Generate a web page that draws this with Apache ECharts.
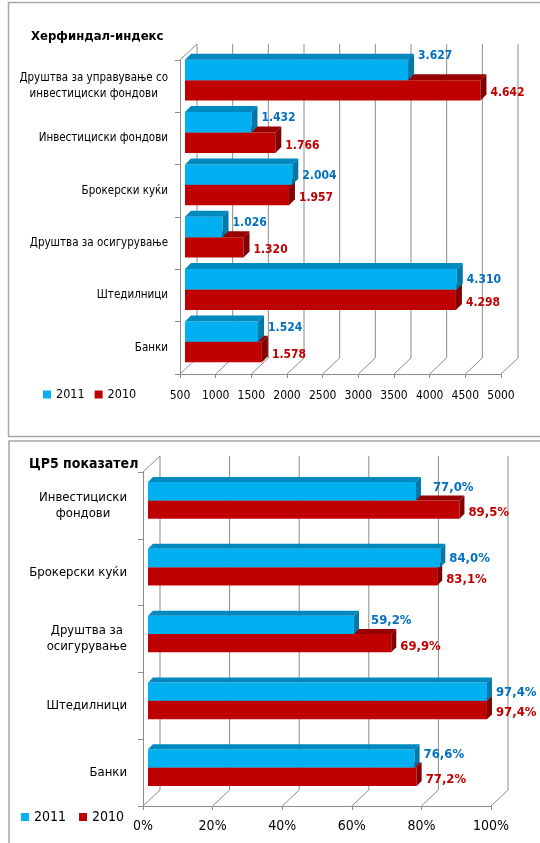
<!DOCTYPE html>
<html>
<head>
<meta charset="utf-8">
<script src="https://cdn.jsdelivr.net/npm/echarts@6/dist/echarts.min.js"></script>
<style>
  html, body { margin: 0; padding: 0; background: #fff; }
  #chart { width: 540px; height: 843px; }
</style>
</head>
<body>
<div id="chart"></div>
<script>
// Herfindahl index by sector
const hhiCategories = ['Друштва за управување со\nинвестициски фондови', 'Инвестициски фондови', 'Брокерски куќи', 'Друштва за осигурување', 'Штедилници', 'Банки'];
const hhi2011 = [3627, 1432, 2004, 1026, 4310, 1524];
const hhi2010 = [4642, 1766, 1957, 1320, 4298, 1578];
const hhiTicks = [500, 1000, 1500, 2000, 2500, 3000, 3500, 4000, 4500, 5000];

// CR5 concentration ratio by sector (%)
const cr5Categories = ['Инвестициски\nфондови', 'Брокерски куќи', 'Друштва за\nосигурување', 'Штедилници', 'Банки'];
const cr52011 = [77.0, 84.0, 59.2, 97.4, 76.6];
const cr52010 = [89.5, 83.1, 69.9, 97.4, 77.2];
const cr5Ticks = [0, 20, 40, 60, 80, 100];

const years = ['2011', '2010'];

const FONT = "'DejaVu Sans Condensed', 'Liberation Sans', sans-serif";
const GRID_COLOR = '#8c8c8c';
const WALL = [17, -16];          // depth of the back wall relative to the front plane

const PAL = {
  '2011': { front: '#00B0F0', top: '#0089BE', side: '#0078A8', label: '#0070C0' },
  '2010': { front: '#C00000', top: '#960000', side: '#830000', label: '#C00000' }
};

const fmtHHI = v => {
  const s = String(Math.round(v));
  return s.length > 3 ? s.slice(0, s.length - 3) + '.' + s.slice(-3) : s;
};
const fmtPct = v => v.toFixed(1).replace('.', ',') + '%';

// back wall grid lines, floor diagonals and left wall top edge
function wallRenderer(minVal) {
  return function (params, api) {
    const cs = params.coordSys;
    const v = api.value(0);
    const px = api.coord([v, 0])[0];
    const bottom = cs.y + cs.height;
    const top = cs.y;
    const style = { stroke: GRID_COLOR, lineWidth: 1, fill: null };
    const children = [
      { type: 'polyline', shape: { points: [[px, bottom], [px + WALL[0], bottom + WALL[1]], [px + WALL[0], top + WALL[1]]] }, style: style }
    ];
    if (v === minVal) {
      children.push({ type: 'line', shape: { x1: px, y1: top, x2: px + WALL[0], y2: top + WALL[1] }, style: style });
    }
    return { type: 'group', children: children };
  };
}

// pseudo 3D bar: front face, top face, side face and value label
function barRenderer(cfg, year, values, others, fmt) {
  const upper = year === '2011';
  const pal = PAL[year];
  return function (params, api) {
    const idx = api.value(1);
    const v = api.value(0);
    const base = api.coord([cfg.min, idx]);
    const endP = api.coord([v, idx]);
    const band = api.size([0, 1])[1];
    const h = band * cfg.ratio;
    const d = cfg.depth;
    const cy = base[1] + cfg.shift[1];
    const y0 = upper ? cy - h : cy;
    const x0 = base[0] + cfg.shift[0];
    const x1 = endP[0] + cfg.shift[0];

    // keep the upper label clear of a longer bar below it
    let dy = upper ? 1 : 3;
    let dx = 0;
    if (upper) {
      const otherEnd = api.coord([others[idx], idx])[0] + cfg.shift[0];
      const over = otherEnd - x1;
      if (over > 0) {
        dy = over > 60 ? -14 : -4;
        if (over > 30 && over <= 60) dx = 8;
      }
    }

    return {
      type: 'group',
      children: [
        { type: 'rect', shape: { x: x0, y: y0, width: x1 - x0, height: h }, style: { fill: pal.front } },
        { type: 'polygon', shape: { points: [[x0, y0], [x1, y0], [x1 + d, y0 - d], [x0 + d, y0 - d]] }, style: { fill: pal.top } },
        { type: 'polygon', shape: { points: [[x1, y0], [x1, y0 + h], [x1 + d, y0 + h - d], [x1 + d, y0 - d]] }, style: { fill: pal.side } },
        {
          type: 'text',
          style: {
            x: x1 + d + 4 + dx, y: y0 + h / 2 + dy,
            text: fmt(values[idx]),
            fill: pal.label,
            font: 'bold ' + cfg.labelSize + 'px ' + FONT,
            align: 'left', verticalAlign: 'middle'
          }
        }
      ]
    };
  };
}

function catLabel(value) {
  return value.split('\n').map(s => '{c|' + s + '}').join('\n');
}

const hhiCfg = { min: hhiTicks[0], ratio: 0.39, depth: 6, shift: [5, -6], labelSize: 12 };
const cr5Cfg = { min: cr5Ticks[0], ratio: 0.275, depth: 5, shift: [5, -5], labelSize: 13 };

const option = {
  animation: false,
  backgroundColor: '#fff',
  title: [
    { text: 'Херфиндал-индекс', left: 26, top: 25, textStyle: { fontSize: 13, fontWeight: 'bold', fontFamily: FONT, color: '#000' } },
    { text: 'ЦР5 показател', left: 24, top: 452, textStyle: { fontSize: 14, fontWeight: 'bold', fontFamily: FONT, color: '#000' } }
  ],
  graphic: [
    { type: 'rect', shape: { x: 8.5, y: 2.5, width: 560, height: 434 }, style: { fill: 'none', stroke: '#a6a6a6', lineWidth: 1.5 }, silent: true },
    { type: 'rect', shape: { x: 9, y: 441, width: 560, height: 420 }, style: { fill: 'none', stroke: '#a6a6a6', lineWidth: 1.5 }, silent: true }
  ],
  legend: [
    { data: years, left: 38, top: 383, icon: 'rect', itemWidth: 8, itemHeight: 8, itemGap: 10, textStyle: { fontSize: 12.5, fontFamily: FONT, color: '#000' } },
    { data: years, left: 16, top: 805, icon: 'rect', itemWidth: 8, itemHeight: 8, itemGap: 13, textStyle: { fontSize: 14, fontFamily: FONT, color: '#000' } }
  ],
  grid: [
    { left: 180, width: 321, top: 60, height: 314 },
    { left: 143, width: 348, top: 472, height: 334 }
  ],
  xAxis: [
    {
      type: 'value', gridIndex: 0,
      min: hhiTicks[0], max: hhiTicks[hhiTicks.length - 1], interval: hhiTicks[1] - hhiTicks[0],
      axisLine: { show: true, lineStyle: { color: GRID_COLOR } },
      axisTick: { show: true, length: 4, lineStyle: { color: GRID_COLOR } },
      splitLine: { show: false },
      axisLabel: { margin: 16, formatter: v => String(v), color: '#000', fontSize: 12, fontFamily: FONT }
    },
    {
      type: 'value', gridIndex: 1,
      min: cr5Ticks[0], max: cr5Ticks[cr5Ticks.length - 1], interval: cr5Ticks[1] - cr5Ticks[0],
      axisLine: { show: true, lineStyle: { color: GRID_COLOR } },
      axisTick: { show: true, length: 4, lineStyle: { color: GRID_COLOR } },
      splitLine: { show: false },
      axisLabel: { margin: 13, formatter: v => v + '%', color: '#000', fontSize: 14, fontFamily: FONT }
    }
  ],
  yAxis: [
    {
      type: 'category', gridIndex: 0, data: hhiCategories, inverse: true,
      axisLine: { show: true, lineStyle: { color: GRID_COLOR } },
      axisTick: { show: true, length: 5, lineStyle: { color: GRID_COLOR } },
      axisLabel: {
        margin: 12, formatter: catLabel,
        rich: { c: { align: 'center', fontSize: 11.5, fontFamily: FONT, color: '#000', lineHeight: 16 } }
      }
    },
    {
      type: 'category', gridIndex: 1, data: cr5Categories, inverse: true,
      axisLine: { show: true, lineStyle: { color: GRID_COLOR } },
      axisTick: { show: true, length: 5, lineStyle: { color: GRID_COLOR } },
      axisLabel: {
        margin: 16, formatter: catLabel,
        rich: { c: { align: 'center', fontSize: 13, fontFamily: FONT, color: '#000', lineHeight: 16 } }
      }
    }
  ],
  series: [
    {
      type: 'custom', name: 'wall-hhi', xAxisIndex: 0, yAxisIndex: 0, z: 1, silent: true,
      data: hhiTicks.map(v => [v, 0]), renderItem: wallRenderer(hhiTicks[0])
    },
    {
      type: 'custom', name: 'wall-cr5', xAxisIndex: 1, yAxisIndex: 1, z: 1, silent: true,
      data: cr5Ticks.map(v => [v, 0]), renderItem: wallRenderer(cr5Ticks[0])
    },
    {
      type: 'custom', name: '2010', xAxisIndex: 0, yAxisIndex: 0, z: 2,
      itemStyle: { color: PAL['2010'].front },
      encode: { x: 0, y: 1 },
      data: hhi2010.map((v, i) => [v, i]),
      renderItem: barRenderer(hhiCfg, '2010', hhi2010, hhi2011, fmtHHI)
    },
    {
      type: 'custom', name: '2011', xAxisIndex: 0, yAxisIndex: 0, z: 3,
      itemStyle: { color: PAL['2011'].front },
      encode: { x: 0, y: 1 },
      data: hhi2011.map((v, i) => [v, i]),
      renderItem: barRenderer(hhiCfg, '2011', hhi2011, hhi2010, fmtHHI)
    },
    {
      type: 'custom', name: '2010', xAxisIndex: 1, yAxisIndex: 1, z: 2,
      itemStyle: { color: PAL['2010'].front },
      encode: { x: 0, y: 1 },
      data: cr52010.map((v, i) => [v, i]),
      renderItem: barRenderer(cr5Cfg, '2010', cr52010, cr52011, fmtPct)
    },
    {
      type: 'custom', name: '2011', xAxisIndex: 1, yAxisIndex: 1, z: 3,
      itemStyle: { color: PAL['2011'].front },
      encode: { x: 0, y: 1 },
      data: cr52011.map((v, i) => [v, i]),
      renderItem: barRenderer(cr5Cfg, '2011', cr52011, cr52010, fmtPct)
    }
  ]
};

const chart = echarts.init(document.getElementById('chart'), null, { renderer: 'canvas' });
chart.setOption(option);
</script>
</body>
</html>
